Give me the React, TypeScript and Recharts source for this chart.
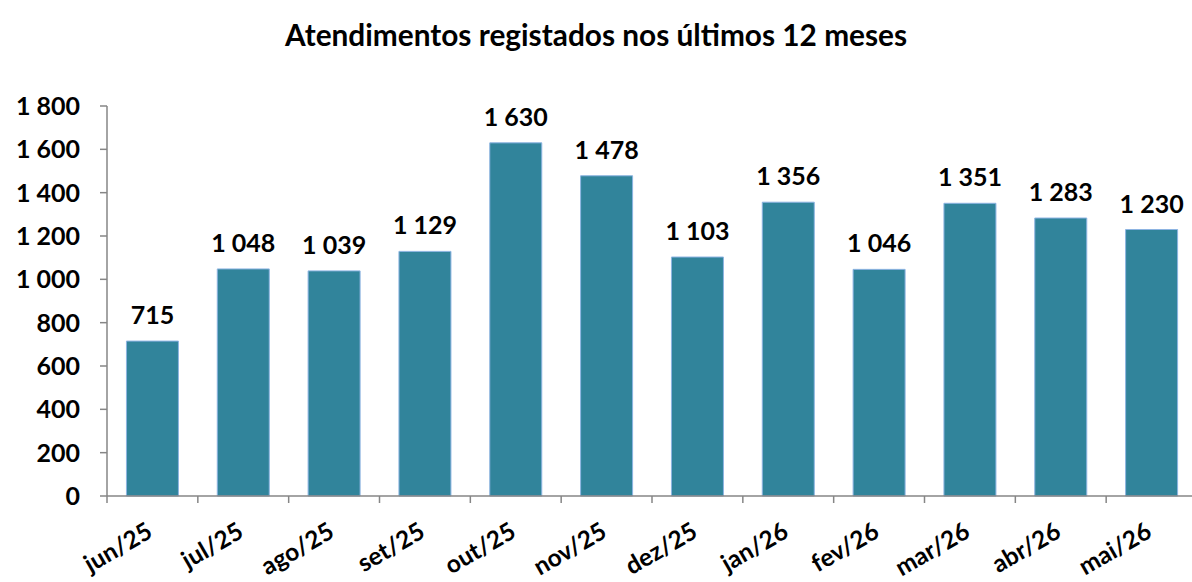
import React from 'react';
import { BarChart, Bar, XAxis, YAxis, LabelList } from 'recharts';

const categories = ['jun/25', 'jul/25', 'ago/25', 'set/25', 'out/25', 'nov/25', 'dez/25', 'jan/26', 'fev/26', 'mar/26', 'abr/26', 'mai/26'];
const values = [715, 1048, 1039, 1129, 1630, 1478, 1103, 1356, 1046, 1351, 1283, 1230];
const yTicks = [0, 200, 400, 600, 800, 1000, 1200, 1400, 1600, 1800];
const title = 'Atendimentos registados nos últimos 12 meses';

const data = categories.map((c, i) => ({ month: c, value: values[i] }));

const fmt = (v: any) => String(Math.round(Number(v))).replace(/\B(?=(\d{3})+(?!\d))/g, ' ');

const W = 1200;
const H = 582;
const M = { top: 106, right: 3, bottom: 0, left: 0 };
const XH = 86;
const YW = 107;
const AXIS_Y = H - M.bottom - XH;
const FONT = 'Lato, "Open Sans", sans-serif';
const AXIS = '#868686';
const PLOT_W = W - M.left - M.right - YW;

const XTick = (props: any) => {
  const { x, payload, index } = props;
  const half = payload && typeof payload.offset === 'number' && payload.offset > 0 ? payload.offset : PLOT_W / categories.length / 2;
  const last = index === categories.length - 1;
  const y = AXIS_Y;
  return (
    <g>
      <line x1={x - half} x2={x - half} y1={y} y2={y + 7} stroke={AXIS} strokeWidth={1.5} />
      {last && <line x1={x + half} x2={x + half} y1={y} y2={y + 7} stroke={AXIS} strokeWidth={1.5} />}
      <g transform={`translate(${x - 3},${y + 32}) rotate(-30)`}>
        <text textAnchor="end" dominantBaseline="central" fontFamily={FONT} fontWeight={700} fontSize={24.5} fill="#000">
          {payload.value}
        </text>
      </g>
    </g>
  );
};

export default function App() {
  return (
    <div style={{ position: 'fixed', left: 0, top: 0, width: 1192, height: 582, overflow: 'hidden', background: '#fff' }}>
      <div style={{ position: 'absolute', left: 0, top: 20, width: 1192, textAlign: 'center', fontFamily: FONT, fontWeight: 700, fontSize: 29.8, lineHeight: '29.8px', color: '#000' }}>
        {title}
      </div>
      <div style={{ position: 'absolute', left: 0, top: 0 }}>
        <BarChart width={W} height={H} data={data} margin={M} barCategoryGap="21.4%">
          <XAxis
            dataKey="month"
            axisLine={{ stroke: AXIS, strokeWidth: 1.5 }}
            tickLine={false}
            tickSize={0}
            tickMargin={0}
            interval={0}
            tick={<XTick />}
            height={XH}
          />
          <YAxis
            width={YW}
            domain={[0, 1800]}
            ticks={yTicks}
            interval={0}
            axisLine={{ stroke: AXIS, strokeWidth: 1.5 }}
            tickLine={{ stroke: AXIS, strokeWidth: 1.5 }}
            tickSize={7}
            tickMargin={20}
            tickFormatter={fmt}
            tick={{ fontFamily: FONT, fontWeight: 700, fontSize: 25, fill: '#000' }}
          />
          <Bar dataKey="value" fill="#31849B" stroke="#8DB4E2" strokeWidth={1} isAnimationActive={false}>
            <LabelList dataKey="value" position="top" offset={17} formatter={fmt} fontFamily={FONT} fontWeight={700} fontSize={25} fill="#000" />
          </Bar>
        </BarChart>
      </div>
    </div>
  );
}
